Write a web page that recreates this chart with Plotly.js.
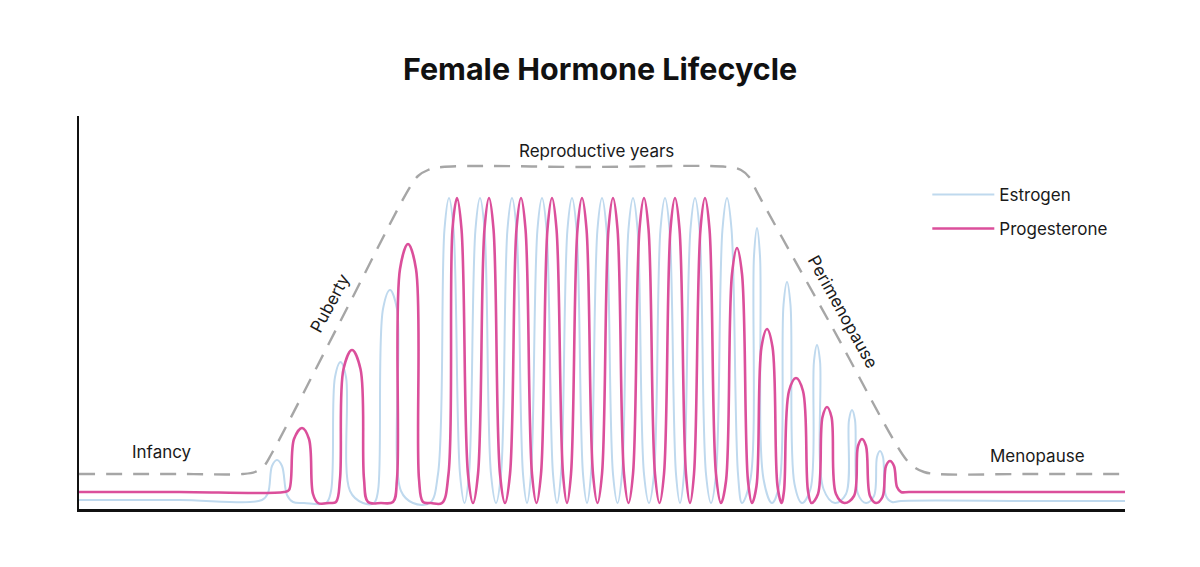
<!DOCTYPE html>
<html>
<head>
<meta charset="utf-8">
<script src="https://cdn.plot.ly/plotly-3.0.1.min.js"></script>
<style>html,body{margin:0;padding:0;background:#fff;}#chart{width:1200px;height:567px;}</style>
</head>
<body>
<div id="chart"></div>
<script>
// Schematic hormone levels (arbitrary units), outline points
var estrogenX = [
  0, 10, 18.3,
  18.9, 19.3, 19.8, 20.3, 20.8, 21.4,
  22.5, 24.7,
  25.2, 25.6, 26.15, 26.7, 27.1,
  28.4, 29.5,
  29.9, 30.4, 31.1, 31.8, 32.2,
  33.4, 35.1,
  35.9, 36.55, 37.0, 37.45, 38.1, 38.55,
  39.0, 39.65, 40.1, 40.55, 41.2, 41.7,
  42.2, 42.85, 43.3, 43.75, 44.4, 44.8,
  45.2, 45.85, 46.3, 46.75, 47.4, 47.8,
  48.2, 48.85, 49.3, 49.75, 50.4, 50.8,
  51.2, 51.85, 52.3, 52.75, 53.4, 53.85,
  54.3, 54.95, 55.4, 55.85, 56.5, 57.0,
  57.5, 58.15, 58.6, 59.05, 59.7, 60.1,
  60.5, 61.15, 61.6, 62.05, 62.7, 63.2,
  63.7, 64.35, 64.8, 65.25, 65.9, 66.3,
  67.15, 67.5, 67.8, 68.1, 68.45, 69.3,
  70.05, 70.45, 70.8, 71.15, 71.55, 72.3,
  73.15, 73.5, 73.8, 74.1, 74.45, 75.6,
  76.7, 77.0, 77.3, 77.6, 77.9, 78.7,
  79.5, 79.8, 80.1, 80.4, 80.7, 81.3,
  82.2, 95, 104.6];
var estrogenY = [
  0.9, 0.9, 0.9,
  1.6, 4.3, 4.9, 4.3, 1.4, 0.7,
  0.6, 0.6,
  1.8, 13.2, 14.7, 13.2, 1.8,
  0.6, 0.6,
  1.8, 20.0, 21.9, 20.0, 1.8,
  0.6, 0.6,
  3.5, 28.0, 31.1, 28.0, 3.5, 0.6,
  3.5, 28.0, 31.1, 28.0, 3.5, 0.6,
  3.5, 28.0, 31.1, 28.0, 3.5, 0.6,
  3.5, 28.0, 31.1, 28.0, 3.5, 0.6,
  3.5, 28.0, 31.1, 28.0, 3.5, 0.6,
  3.5, 28.0, 31.1, 28.0, 3.5, 0.6,
  3.5, 28.0, 31.1, 28.0, 3.5, 0.6,
  3.5, 28.0, 31.1, 28.0, 3.5, 0.6,
  3.5, 28.0, 31.1, 28.0, 3.5, 0.6,
  3.5, 28.0, 31.1, 28.0, 3.5, 0.6,
  3.0, 25.3, 28.1, 25.3, 3.0, 0.6,
  2.5, 20.4, 22.7, 20.4, 2.5, 0.6,
  2.0, 14.8, 16.4, 14.8, 2.0, 0.6,
  1.5, 8.9, 9.9, 8.9, 1.5, 0.6,
  1.3, 5.2, 5.8, 5.2, 1.3, 0.7,
  0.8, 0.8, 0.8];

var progesteroneX = [
  0, 10, 20.5,
  21.0, 21.5, 22.3, 23.0, 23.4, 23.9,
  25.0,
  25.7, 26.1, 26.45, 27.3, 28.15, 28.5, 28.9,
  30.2,
  31.4, 31.8, 32.1, 32.9, 33.7, 34.0, 34.4,
  35.2, 36.3,
  36.95, 37.35, 37.8, 38.25, 38.9, 39.4,
  39.9, 40.55, 41.0, 41.45, 42.1, 42.6,
  43.1, 43.75, 44.2, 44.65, 45.3, 45.75,
  46.2, 46.85, 47.3, 47.75, 48.4, 48.8,
  49.2, 49.85, 50.3, 50.75, 51.4, 51.85,
  52.3, 52.95, 53.4, 53.85, 54.5, 54.95,
  55.4, 56.05, 56.5, 56.95, 57.6, 58.05,
  58.5, 59.15, 59.6, 60.05, 60.7, 61.1,
  61.5, 62.15, 62.6, 63.05, 63.7, 64.2,
  64.7, 65.3, 65.8, 66.3, 66.9, 67.3,
  67.75, 68.25, 68.8, 69.35, 69.85, 70.25,
  70.5, 71.0, 71.7, 72.4, 72.9, 73.25,
  73.9, 74.35, 74.8, 75.25, 75.7, 76.55,
  77.5, 77.9, 78.3, 78.7, 79.1, 79.7,
  80.35, 80.7, 81.1, 81.5, 81.8, 82.2,
  83.0, 95, 104.6];
var progesteroneY = [
  1.7, 1.7, 1.7,
  1.9, 7.0, 8.1, 7.0, 1.5, 0.6,
  0.6,
  0.7, 3.0, 14.0, 15.9, 14.0, 3.0, 0.7,
  0.6,
  0.7, 3.0, 24.0, 26.5, 24.0, 3.0, 0.7,
  0.6, 0.6,
  3.5, 28.0, 31.1, 28.0, 3.5, 0.6,
  3.5, 28.0, 31.1, 28.0, 3.5, 0.6,
  3.5, 28.0, 31.1, 28.0, 3.5, 0.6,
  3.5, 28.0, 31.1, 28.0, 3.5, 0.6,
  3.5, 28.0, 31.1, 28.0, 3.5, 0.6,
  3.5, 28.0, 31.1, 28.0, 3.5, 0.6,
  3.5, 28.0, 31.1, 28.0, 3.5, 0.6,
  3.5, 28.0, 31.1, 28.0, 3.5, 0.6,
  3.5, 28.0, 31.1, 28.0, 3.5, 0.6,
  2.8, 23.5, 26.1, 23.5, 2.8, 0.6,
  2.3, 16.2, 18.0, 16.2, 2.3, 0.6,
  1.8, 11.8, 13.1, 11.8, 1.8, 0.6,
  1.5, 9.2, 10.2, 9.2, 1.5, 0.6,
  1.3, 6.3, 7.0, 6.3, 1.3, 0.6,
  1.2, 4.3, 4.8, 4.3, 2.2, 1.7,
  1.7, 1.7, 1.7];

var stageX = [0, 10, 16.4, 17.6, 18.5, 19.3, 26.2, 33.1, 33.9, 34.9, 36.3, 50.6, 64.9, 66.2, 67.1, 67.8, 75.2, 82.6, 83.5, 84.5, 85.7, 95, 104.6];
var stageY = [3.5, 3.5, 3.5, 3.7, 4.3, 5.6, 18.9, 32.2, 33.3, 33.9, 34.2, 34.2, 34.2, 33.9, 33.1, 31.7, 18.4, 5.1, 4.2, 3.7, 3.5, 3.5, 3.5];

var stageLabels = ["Infancy", "Puberty", "Reproductive years", "Perimenopause", "Menopause"];
var stageLabelX = [8.3, 25.1, 51.7, 76.4, 95.8];
var stageLabelY = [5.7, 20.6, 35.8, 19.7, 5.3];
var stageLabelAngle = [0, -62, 0, 61, 0];

var FONT = "Inter, 'Open Sans', Roboto, sans-serif";

var traces = [
  {x: stageX, y: stageY, type: 'scatter', mode: 'lines', showlegend: false, hoverinfo: 'skip',
   line: {color: '#a6a6a6', width: 2.4, dash: '16px,11px', shape: 'spline', smoothing: 1}},
  {x: estrogenX, y: estrogenY, type: 'scatter', mode: 'lines', name: 'Estrogen', legendgroup: 'e',
   line: {color: '#bfd9ee', width: 2, shape: 'spline', smoothing: 1}},
  {x: progesteroneX, y: progesteroneY, type: 'scatter', mode: 'lines', name: 'Progesterone', legendgroup: 'p',
   line: {color: '#db4f9b', width: 2.6, shape: 'spline', smoothing: 1}}
];

var annotations = stageLabels.map(function (t, i) {
  return {x: stageLabelX[i], y: stageLabelY[i], xref: 'x', yref: 'y', text: t, showarrow: false,
    textangle: stageLabelAngle[i], font: {family: FONT, size: 17, color: '#1a1a1a'}};
});

var layout = {
  width: 1200, height: 567,
  margin: {l: 79, r: 75, t: 116, b: 58},
  paper_bgcolor: '#ffffff', plot_bgcolor: '#ffffff',
  title: {text: 'Female Hormone Lifecycle', x: 0.5, xanchor: 'center', y: 0.877, yanchor: 'middle',
    font: {family: FONT, size: 30.5, weight: 700, color: '#111111'}},
  xaxis: {range: [0, 104.6], showgrid: false, zeroline: false, showticklabels: false, ticks: '',
    showline: true, linecolor: '#111111', linewidth: 2.5, fixedrange: true},
  yaxis: {range: [0, 39.3], showgrid: false, zeroline: false, showticklabels: false, ticks: '',
    showline: true, linecolor: '#111111', linewidth: 2.5, fixedrange: true},
  showlegend: true,
  legend: {x: 0.811, xanchor: 'left', y: 0.845, yanchor: 'top', traceorder: 'grouped', tracegroupgap: 9,
    itemwidth: 62, font: {family: FONT, size: 17, color: '#1a1a1a'}, bgcolor: 'rgba(0,0,0,0)'},
  annotations: annotations
};

Plotly.newPlot('chart', traces, layout, {staticPlot: true, displayModeBar: false});
</script>
</body>
</html>
